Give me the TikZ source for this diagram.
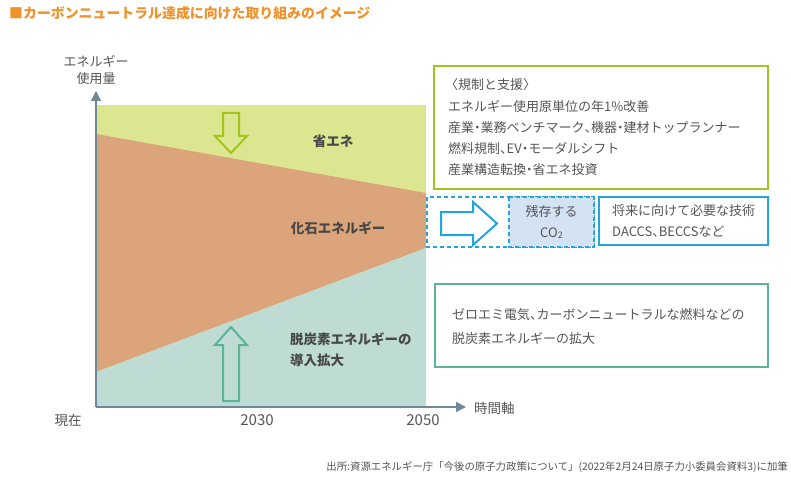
\documentclass[tikz,border=0pt]{standalone}
\usepackage{fontspec}
\setmainfont{Noto Sans CJK JP}
\usetikzlibrary{arrows.meta}
\definecolor{titleor}{HTML}{F0912A}
\definecolor{txtgray}{HTML}{555555}
\definecolor{axiscol}{HTML}{6E8A9A}
\definecolor{areagreen}{HTML}{DCE690}
\definecolor{areaorange}{HTML}{DCA47A}
\definecolor{areateal}{HTML}{BEDCD3}
\definecolor{lime}{HTML}{A2C41E}
\definecolor{cyanb}{HTML}{22A4DE}
\definecolor{lightblue}{HTML}{D3E3F3}
\definecolor{tealb}{HTML}{5BB39A}
\newcommand\nkg{\makebox[0.5em][c]{・}}
\newcommand\ttn{\makebox[0.5em][l]{、}}
\tikzset{
  lbl/.style={text=txtgray, inner sep=0pt, font=\fontsize{13}{15}\selectfont},
  blbl/.style={text=txtgray!85!black, inner sep=0pt, font=\bfseries\fontsize{13.5}{21}\selectfont},
  axisline/.style={draw=axiscol, line width=1.6pt, -{Triangle[width=10pt,length=10pt]}},
  boxline/.style={line width=1.8pt},
  arrowshape/.style={line width=2pt, line join=miter}
}
\begin{document}
\begin{tikzpicture}[x=1pt,y=-1pt]
\useasboundingbox (0,0) rectangle (791,481);
% title
\node[anchor=west, inner sep=0pt, text=titleor, font=\bfseries\fontsize{13.9}{16}\selectfont] (title) at (9,13) {■カーボンニュートラル達成に向けた取り組みのイメージ};
% areas
\fill[areagreen] (96,105) rectangle (426,407);
\fill[areaorange] (96,134) -- (426,193) -- (426,248) -- (96,372) -- cycle;
\fill[areateal] (96,372) -- (426,248) -- (426,407) -- (96,407) -- cycle;
% axes
\coordinate (o) at (96,407);
\coordinate (ytip) at (96,91);
\coordinate (xtip) at (466,407);
\draw[axisline] (o) -- (ytip);
\draw[axisline] (o) -- (xtip);
% axis labels
\node[lbl, align=center, font=\fontsize{13}{16.5}\selectfont] (ylab) at (96,70) {エネルギー\\使用量};
\node[lbl, font=\fontsize{13.5}{15}\selectfont] (now) at (68,420) {現在};
\node[lbl, font=\fontsize{15}{15}\selectfont] (y2030) at (257,420) {2030};
\node[lbl, font=\fontsize{15}{15}\selectfont] (y2050) at (423,420) {2050};
\node[lbl, anchor=west, font=\fontsize{13.5}{15}\selectfont] (xlab) at (474,408) {時間軸};
% arrows in chart
\draw[lime, arrowshape] (223,113) -- (239,113) -- (239,136) -- (247,136) -- (231,153) -- (215,136) -- (223,136) -- cycle;
\draw[tealb, arrowshape] (223,401) -- (239,401) -- (239,345) -- (247,345) -- (231,327) -- (215,345) -- (223,345) -- cycle;
% area labels
\node[blbl] (shoene) at (333,141) {省エネ};
\node[blbl] (fossil) at (338,228) {化石エネルギー};
\node[blbl, anchor=north west, align=left] (decarb) at (290,332) {脱炭素エネルギーの\\導入拡大};
% green box
\draw[lime, boxline] (434,66) rectangle (768,189);
\node[lbl, anchor=west] (g1) at (445,85) {〈規制と支援〉};
\node[lbl, anchor=west] (g2) at (448,106.5) {エネルギー使用原単位の年1\%改善};
\node[lbl, anchor=west] (g3) at (448,128) {産業\nkg 業務ベンチマーク\ttn 機器\nkg 建材トップランナー};
\node[lbl, anchor=west] (g4) at (448,149) {燃料規制\ttn EV\nkg モーダルシフト};
\node[lbl, anchor=west] (g5) at (448,170) {産業構造転換\nkg 省エネ投資};
% dashed CO2 box
\draw[cyanb, boxline, dash pattern=on 4pt off 3pt] (427,197) rectangle (594,247);
\draw[cyanb, boxline, fill=lightblue, dash pattern=on 4pt off 3pt] (509,197) rectangle (594,247);
\draw[cyanb, arrowshape] (441,212) -- (473,212) -- (473,202) -- (497,223.5) -- (473,245) -- (473,235) -- (441,235) -- cycle;
\node[lbl, align=center, font=\fontsize{13}{21}\selectfont] (co2) at (551.5,222) {残存する\\CO{\fontsize{9}{8}\selectfont\raisebox{-0.35ex}{2}}};
% solid blue box
\draw[cyanb, line width=2.2pt] (599,197) rectangle (768,245);
\node[lbl, anchor=west] (b1) at (612,211) {将来に向けて必要な技術};
\node[lbl, anchor=west] (b2) at (612,232) {DACCS\ttn BECCSなど};
% teal box
\draw[tealb, boxline] (435,284) rectangle (768,367);
\node[lbl, anchor=west] (t1) at (452,315) {ゼロエミ電気\ttn カーボンニュートラルな燃料などの};
\node[lbl, anchor=west] (t2) at (452,338) {脱炭素エネルギーの拡大};
% source
\node[lbl, anchor=east, font=\fontsize{10.4}{12}\selectfont] (src) at (788,467) {出所:資源エネルギー庁「今後の原子力政策について」(2022年2月24日原子力小委員会資料3)に加筆};
\end{tikzpicture}
\end{document}
